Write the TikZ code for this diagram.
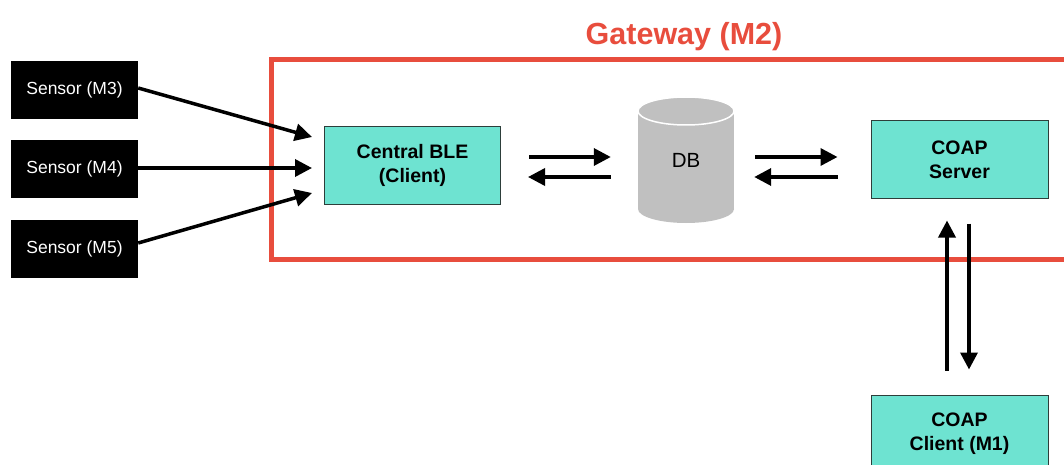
\documentclass[tikz,border=0pt]{standalone}
\usepackage{fontspec}
\setmainfont{Liberation Sans}
\usetikzlibrary{arrows.meta,calc}
\definecolor{gwred}{RGB}{232,77,61}
\definecolor{teal}{RGB}{110,227,209}
\definecolor{boxline}{RGB}{45,62,58}
\definecolor{dbgray}{RGB}{192,192,192}
\tikzset{
  sensorbox/.style={fill=black, text=white, minimum width=127pt, minimum height=58pt,
    inner sep=0pt, font=\fontsize{17.5}{20}\selectfont},
  tealbox/.style={fill=teal, draw=boxline, line width=1pt, minimum width=176pt,
    minimum height=77pt, inner sep=0pt, align=center,
    font=\fontsize{19.5}{24}\selectfont\bfseries},
  arr/.style={line width=3.5pt, -{Triangle[length=17pt,width=17pt]}},
}
\begin{document}
\begin{tikzpicture}[x=1pt,y=-1pt]
\useasboundingbox (0,0) rectangle (1064,465);
\clip (0,0) rectangle (1064,465);

% gateway frame and title
\draw[gwred, line width=5pt] (271,59.5) rectangle (1080,259.5);
\node[anchor=base, text=gwred, font=\fontsize{30.5}{36}\selectfont\bfseries]
  (title) at (684,45) {Gateway (M2)};

% sensors
\node[sensorbox] (s3) at (74.5,90) {Sensor (M3)};
\node[sensorbox] (s4) at (74.5,169) {Sensor (M4)};
\node[sensorbox] (s5) at (74.5,248.5) {Sensor (M5)};

% gateway components
\node[tealbox] (ble) at (412.5,165.5) {Central BLE\\(Client)};
\node[tealbox, minimum width=177pt] (server) at (959.5,159.5) {COAP\\Server};
\node[tealbox, minimum width=177pt, minimum height=78pt] (client) at (959.5,434) {COAP\\Client (M1)};

% database cylinder
\fill[dbgray] (638,111) rectangle (734,209);
\fill[dbgray] (686,209) ellipse [x radius=48, y radius=14];
\filldraw[fill=dbgray, draw=white, line width=1.5pt] (686,111) ellipse [x radius=48, y radius=14];
\node[minimum width=96pt, minimum height=126pt, inner sep=0pt,
  font=\fontsize{20.5}{24}\selectfont] (db) at (686,160) {DB};

% sensor links
\draw[arr] ($(s3.east)+(0,-2)$) -- ($(ble.west)+(-12,-28.5)$);
\draw[arr] ($(s4.east)+(0,-1)$) -- ($(ble.west)+(-12,2.5)$);
\draw[arr] ($(s5.east)+(0,-5.5)$) -- ($(ble.west)+(-12,27.5)$);

% BLE <-> DB
\draw[arr] ($(ble.east)+(28,-8.5)$) -- ($(db.west)+(-27,-3)$);
\draw[arr] ($(db.west)+(-27,17)$) -- ($(ble.east)+(27,11.5)$);

% DB <-> server
\draw[arr] ($(db.east)+(21,-3)$) -- ($(server.west)+(-33,-2.5)$);
\draw[arr] ($(server.west)+(-33,17.5)$) -- ($(db.east)+(20,17)$);

% server <-> client
\draw[arr] ($(client.north)+(-12.5,-24)$) -- ($(server.south)+(-12.5,22)$);
\draw[arr] ($(server.south)+(9.5,25)$) -- ($(client.north)+(9.5,-25)$);
\end{tikzpicture}
\end{document}
